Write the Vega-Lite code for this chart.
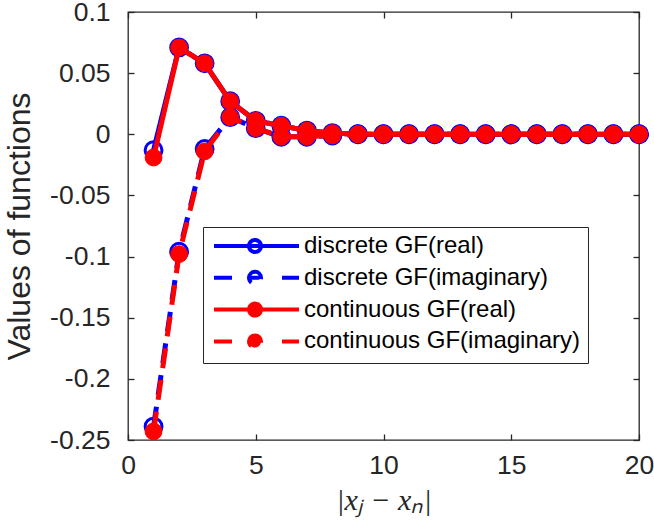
{
  "$schema": "https://vega.github.io/schema/vega-lite/v6.json",
  "width": 511,
  "height": 428,
  "autosize": {"type": "none"},
  "padding": {"left": 128, "top": 12, "right": 15, "bottom": 82},
  "background": "white",
  "config": {
    "view": {"stroke": "#262626", "strokeWidth": 1.3},
    "font": "Liberation Sans",
    "axis": {
      "domain": false,
      "grid": false,
      "labelFlush": false,
      "labelFont": "Liberation Sans",
      "labelFontSize": 26.5,
      "labelColor": "#262626",
      "tickColor": "#262626",
      "tickWidth": 1.3,
      "tickSize": -6,
      "titleColor": "#262626"
    }
  },
  "data": {
    "values": [
      {"x": 1, "y": -0.013, "series": "discrete GF(real)"},
      {"x": 2, "y": 0.071, "series": "discrete GF(real)"},
      {"x": 3, "y": 0.058, "series": "discrete GF(real)"},
      {"x": 4, "y": 0.027, "series": "discrete GF(real)"},
      {"x": 5, "y": 0.011, "series": "discrete GF(real)"},
      {"x": 6, "y": 0.007, "series": "discrete GF(real)"},
      {"x": 7, "y": 0.003, "series": "discrete GF(real)"},
      {"x": 8, "y": 0.001, "series": "discrete GF(real)"},
      {"x": 9, "y": 0, "series": "discrete GF(real)"},
      {"x": 10, "y": 0, "series": "discrete GF(real)"},
      {"x": 11, "y": 0, "series": "discrete GF(real)"},
      {"x": 12, "y": 0, "series": "discrete GF(real)"},
      {"x": 13, "y": 0, "series": "discrete GF(real)"},
      {"x": 14, "y": 0, "series": "discrete GF(real)"},
      {"x": 15, "y": 0, "series": "discrete GF(real)"},
      {"x": 16, "y": 0, "series": "discrete GF(real)"},
      {"x": 17, "y": 0, "series": "discrete GF(real)"},
      {"x": 18, "y": 0, "series": "discrete GF(real)"},
      {"x": 19, "y": 0, "series": "discrete GF(real)"},
      {"x": 20, "y": 0, "series": "discrete GF(real)"},
      {"x": 1, "y": -0.239, "series": "discrete GF(imaginary)"},
      {"x": 2, "y": -0.096, "series": "discrete GF(imaginary)"},
      {"x": 3, "y": -0.012, "series": "discrete GF(imaginary)"},
      {"x": 4, "y": 0.014, "series": "discrete GF(imaginary)"},
      {"x": 5, "y": 0.005, "series": "discrete GF(imaginary)"},
      {"x": 6, "y": -0.002, "series": "discrete GF(imaginary)"},
      {"x": 7, "y": -0.002, "series": "discrete GF(imaginary)"},
      {"x": 8, "y": -0.001, "series": "discrete GF(imaginary)"},
      {"x": 9, "y": 0, "series": "discrete GF(imaginary)"},
      {"x": 10, "y": 0, "series": "discrete GF(imaginary)"},
      {"x": 11, "y": 0, "series": "discrete GF(imaginary)"},
      {"x": 12, "y": 0, "series": "discrete GF(imaginary)"},
      {"x": 13, "y": 0, "series": "discrete GF(imaginary)"},
      {"x": 14, "y": 0, "series": "discrete GF(imaginary)"},
      {"x": 15, "y": 0, "series": "discrete GF(imaginary)"},
      {"x": 16, "y": 0, "series": "discrete GF(imaginary)"},
      {"x": 17, "y": 0, "series": "discrete GF(imaginary)"},
      {"x": 18, "y": 0, "series": "discrete GF(imaginary)"},
      {"x": 19, "y": 0, "series": "discrete GF(imaginary)"},
      {"x": 20, "y": 0, "series": "discrete GF(imaginary)"},
      {"x": 1, "y": -0.019, "series": "continuous GF(real)"},
      {"x": 2, "y": 0.071, "series": "continuous GF(real)"},
      {"x": 3, "y": 0.058, "series": "continuous GF(real)"},
      {"x": 4, "y": 0.027, "series": "continuous GF(real)"},
      {"x": 5, "y": 0.011, "series": "continuous GF(real)"},
      {"x": 6, "y": 0.007, "series": "continuous GF(real)"},
      {"x": 7, "y": 0.003, "series": "continuous GF(real)"},
      {"x": 8, "y": 0.001, "series": "continuous GF(real)"},
      {"x": 9, "y": 0, "series": "continuous GF(real)"},
      {"x": 10, "y": 0, "series": "continuous GF(real)"},
      {"x": 11, "y": 0, "series": "continuous GF(real)"},
      {"x": 12, "y": 0, "series": "continuous GF(real)"},
      {"x": 13, "y": 0, "series": "continuous GF(real)"},
      {"x": 14, "y": 0, "series": "continuous GF(real)"},
      {"x": 15, "y": 0, "series": "continuous GF(real)"},
      {"x": 16, "y": 0, "series": "continuous GF(real)"},
      {"x": 17, "y": 0, "series": "continuous GF(real)"},
      {"x": 18, "y": 0, "series": "continuous GF(real)"},
      {"x": 19, "y": 0, "series": "continuous GF(real)"},
      {"x": 20, "y": 0, "series": "continuous GF(real)"},
      {"x": 1, "y": -0.243, "series": "continuous GF(imaginary)"},
      {"x": 2, "y": -0.098, "series": "continuous GF(imaginary)"},
      {"x": 3, "y": -0.014, "series": "continuous GF(imaginary)"},
      {"x": 4, "y": 0.014, "series": "continuous GF(imaginary)"},
      {"x": 5, "y": 0.005, "series": "continuous GF(imaginary)"},
      {"x": 6, "y": -0.002, "series": "continuous GF(imaginary)"},
      {"x": 7, "y": -0.002, "series": "continuous GF(imaginary)"},
      {"x": 8, "y": -0.001, "series": "continuous GF(imaginary)"},
      {"x": 9, "y": 0, "series": "continuous GF(imaginary)"},
      {"x": 10, "y": 0, "series": "continuous GF(imaginary)"},
      {"x": 11, "y": 0, "series": "continuous GF(imaginary)"},
      {"x": 12, "y": 0, "series": "continuous GF(imaginary)"},
      {"x": 13, "y": 0, "series": "continuous GF(imaginary)"},
      {"x": 14, "y": 0, "series": "continuous GF(imaginary)"},
      {"x": 15, "y": 0, "series": "continuous GF(imaginary)"},
      {"x": 16, "y": 0, "series": "continuous GF(imaginary)"},
      {"x": 17, "y": 0, "series": "continuous GF(imaginary)"},
      {"x": 18, "y": 0, "series": "continuous GF(imaginary)"},
      {"x": 19, "y": 0, "series": "continuous GF(imaginary)"},
      {"x": 20, "y": 0, "series": "continuous GF(imaginary)"}
    ]
  },
  "resolve": {"axis": {"x": "independent", "y": "independent"}},
  "layer": [
    {
      "transform": [{"filter": "indexof(datum.series, 'discrete') === 0"}],
      "mark": {"type": "line", "strokeWidth": 5, "strokeCap": "butt", "strokeJoin": "round"},
      "encoding": {
        "x": {
          "field": "x", "type": "quantitative",
          "scale": {"domain": [0, 20], "nice": false, "zero": false},
          "axis": {
            "orient": "bottom", "values": [0, 5, 10, 15, 20], "format": "d",
            "labelPadding": 18,
            "title": "|xⱼ − xₙ|",
            "titleFont": "Liberation Serif", "titleFontStyle": "italic", "titleFontWeight": "normal",
            "titleFontSize": 30, "titlePadding": 7
          }
        },
        "y": {
          "field": "y", "type": "quantitative",
          "scale": {"domain": [-0.25, 0.1], "nice": false, "zero": false},
          "axis": {
            "orient": "left",
            "values": [-0.25, -0.2, -0.15, -0.1, -0.05, 0, 0.05, 0.1],
            "format": "~g",
            "labelExpr": "replace(datum.label, '−', '-')",
            "labelPadding": 24,
            "title": "Values of functions",
            "titleFont": "Liberation Sans", "titleFontWeight": "normal",
            "titleFontSize": 32, "titlePadding": 13
          }
        },
        "stroke": {
          "field": "series", "type": "nominal",
          "scale": {
            "domain": ["discrete GF(real)", "discrete GF(imaginary)", "continuous GF(real)", "continuous GF(imaginary)"],
            "range": ["#0000ff", "#0000ff", "#ff0000", "#ff0000"]
          },
          "legend": {
            "orient": "none", "legendX": 75, "legendY": 215,
            "title": null,
            "symbolSize": 400,
            "symbolStrokeWidth": 4,
            "labelFont": "Liberation Sans", "labelFontSize": 24, "labelColor": "#000000",
            "labelLimit": 400,
            "labelOffset": 70,
            "rowPadding": 3.8,
            "padding": 7,
            "strokeColor": "#262626",
            "fillColor": "#ffffff",
            "encode": {
              "symbols": {
                "update": {
                  "shape": {"signal": "indexof(datum.value, 'imaginary') >= 0 ? 'M-0.8,0H1M6,0H7.7M2.85,0H3.75M2.7,0A0.6,0.6,0,1,1,3.9,0A0.6,0.6,0,1,1,2.7,0Z' : 'M-0.8,0H7.7M2.7,0A0.6,0.6,0,1,1,3.9,0A0.6,0.6,0,1,1,2.7,0Z'"},
                  "fill": {"signal": "indexof(datum.value, 'continuous') === 0 ? '#ff0000' : 'transparent'"},
                  "opacity": {"value": 1}
                }
              }
            }
          }
        },
        "strokeDash": {
          "field": "series", "type": "nominal",
          "scale": {
            "domain": ["discrete GF(real)", "discrete GF(imaginary)", "continuous GF(real)", "continuous GF(imaginary)"],
            "range": [[1, 0], [20, 12], [1, 0], [20, 12]]
          },
          "legend": null
        }
      }
    },
    {
      "transform": [{"filter": "indexof(datum.series, 'discrete') === 0"}],
      "mark": {"type": "point", "filled": false, "shape": "circle", "size": 283, "strokeWidth": 3, "opacity": 1},
      "encoding": {
        "x": {"field": "x", "type": "quantitative",
          "axis": {"orient": "top", "values": [0, 5, 10, 15, 20], "labels": false, "title": null}},
        "y": {"field": "y", "type": "quantitative",
          "axis": {"orient": "right", "values": [-0.25, -0.2, -0.15, -0.1, -0.05, 0, 0.05, 0.1], "labels": false, "title": null}},
        "stroke": {"field": "series", "type": "nominal", "legend": null}
      }
    },
    {
      "transform": [{"filter": "indexof(datum.series, 'continuous') === 0"}],
      "mark": {"type": "line", "strokeWidth": 5, "strokeCap": "butt", "strokeJoin": "round"},
      "encoding": {
        "x": {"field": "x", "type": "quantitative", "axis": null},
        "y": {"field": "y", "type": "quantitative", "axis": null},
        "stroke": {"field": "series", "type": "nominal", "legend": null},
        "strokeDash": {"field": "series", "type": "nominal", "legend": null}
      }
    },
    {
      "transform": [{"filter": "indexof(datum.series, 'continuous') === 0"}],
      "mark": {"type": "point", "filled": true, "shape": "circle", "size": 283, "fill": "#ff0000", "strokeWidth": 1, "opacity": 1},
      "encoding": {
        "x": {"field": "x", "type": "quantitative", "axis": null},
        "y": {"field": "y", "type": "quantitative", "axis": null},
        "stroke": {"field": "series", "type": "nominal", "legend": null}
      }
    }
  ]
}
